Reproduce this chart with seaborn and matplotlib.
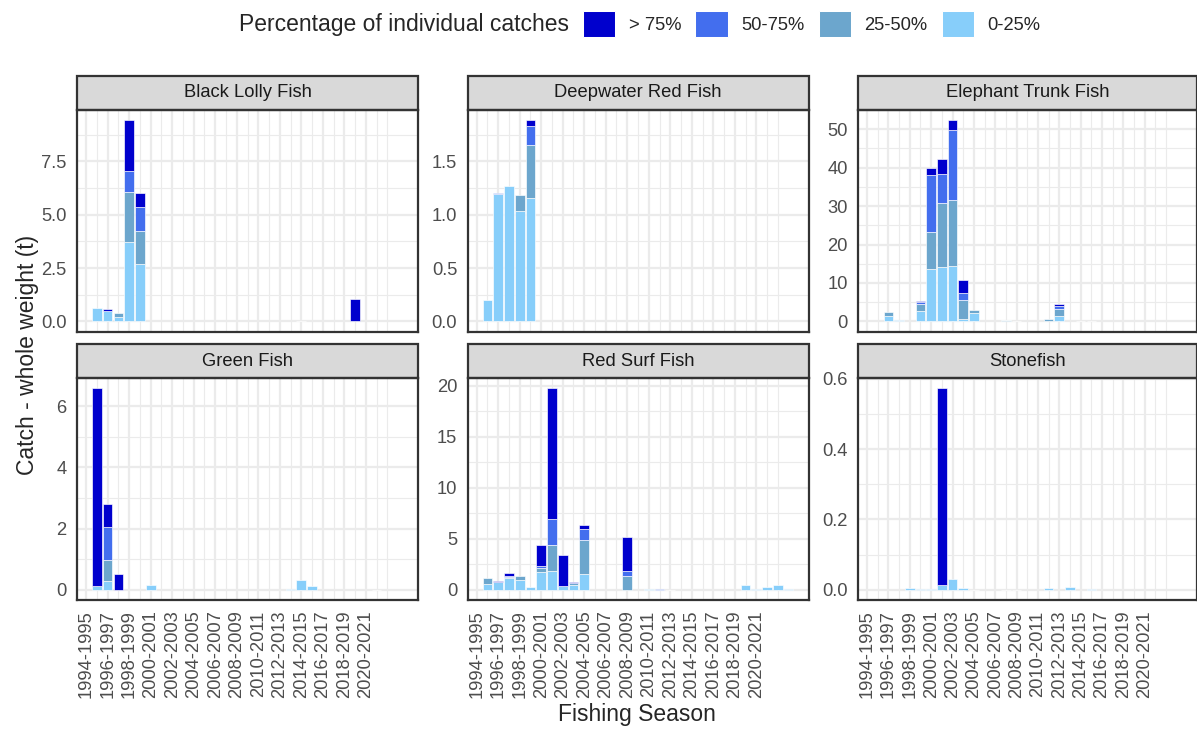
import numpy as np
import pandas as pd
import matplotlib
matplotlib.use("Agg")
import matplotlib.pyplot as plt
from matplotlib.patches import Patch, Rectangle
from matplotlib.ticker import FixedLocator
import seaborn as sns

# ---------------- data ----------------
categories = ["> 75%", "50-75%", "25-50%", "0-25%"]
colors = ["#0000CD", "#436EEE", "#6CA6CD", "#87CEFA"]

species = ["Black Lolly Fish", "Deepwater Red Fish", "Elephant Trunk Fish",
           "Green Fish", "Red Surf Fish", "Stonefish"]

blf_years = [1995, 1996, 1997, 1998, 1999, 2014, 2019]
blf_gt75 = [0, 0.11, 0, 2.39, 0.64, 0, 1.05]
blf_50_75 = [0, 0, 0, 0.98, 1.13, 0, 0]
blf_25_50 = [0, 0, 0.19, 2.38, 1.55, 0, 0]
blf_0_25 = [0.64, 0.47, 0.22, 3.70, 2.70, 0.01, 0]

drf_years = [1995, 1996, 1997, 1998, 1999]
drf_gt75 = [0, 0, 0, 0, 0.06]
drf_50_75 = [0, 0.015, 0, 0, 0.18]
drf_25_50 = [0, 0, 0, 0.15, 0.49]
drf_0_25 = [0.20, 1.19, 1.27, 1.03, 1.16]

etf_years = [1996, 1997, 1999, 2000, 2001, 2002, 2003, 2004, 2007, 2008, 2011, 2012, 2014, 2015]
etf_gt75 = [0, 0, 0.1, 1.74, 4.0, 2.69, 3.39, 0, 0, 0, 0, 0.52, 0, 0]
etf_50_75 = [0, 0, 0.7, 14.76, 7.47, 18.14, 1.91, 0, 0.1, 0, 0, 0.69, 0, 0]
etf_25_50 = [0.87, 0, 1.82, 9.81, 16.67, 17.27, 4.86, 0.95, 0.15, 0, 0.3, 2.0, 0, 0]
etf_0_25 = [1.48, 0.26, 2.6, 13.54, 14.24, 14.41, 0.69, 2.08, 0.18, 0.15, 0.2, 1.3, 0.05, 0.05]

gf_years = [1995, 1996, 1997, 2000, 2013, 2014, 2015, 2021]
gf_gt75 = [6.45, 0.73, 0.53, 0, 0, 0, 0, 0]
gf_50_75 = [0, 1.08, 0, 0, 0, 0, 0, 0]
gf_25_50 = [0, 0.69, 0, 0, 0, 0, 0, 0]
gf_0_25 = [0.14, 0.30, 0, 0.17, 0.02, 0.33, 0.12, 0.01]

rsf_years = [1995, 1996, 1997, 1998, 1999, 2000, 2001, 2002, 2003, 2004, 2008,
             2010, 2011, 2012, 2019, 2020, 2021, 2022, 2023]
rsf_gt75 = [0, 0.10, 0.26, 0, 0, 2.03, 12.81, 3.04, 0.10, 0.42, 3.24,
            0, 0, 0, 0, 0, 0, 0, 0]
rsf_50_75 = [0, 0, 0.15, 0, 0, 0.23, 2.58, 0, 0, 1.08, 0.56,
             0, 0.10, 0, 0, 0, 0, 0, 0]
rsf_25_50 = [0.62, 0, 0.05, 0.36, 0, 0.39, 2.55, 0, 0.16, 3.30, 1.34,
             0, 0, 0, 0, 0, 0, 0, 0]
rsf_0_25 = [0.56, 0.75, 1.17, 0.98, 0.33, 1.73, 1.83, 0.39, 0.52, 1.57, 0,
            0.10, 0.03, 0.03, 0.52, 0.10, 0.26, 0.46, 0.13]

sf_years = [1998, 1999, 2000, 2001, 2002, 2003, 2004, 2007, 2008, 2011, 2013, 2015]
sf_gt75 = [0, 0, 0, 0.560, 0, 0, 0, 0, 0, 0, 0, 0]
sf_50_75 = [0] * 12
sf_25_50 = [0] * 12
sf_0_25 = [0.005, 0.002, 0.002, 0.013, 0.030, 0.0066, 0.001, 0.001, 0.001, 0.005, 0.0076, 0.002]

y_ticks = {
    "Black Lolly Fish": [0, 2.5, 5.0, 7.5],
    "Deepwater Red Fish": [0, 0.5, 1.0, 1.5],
    "Elephant Trunk Fish": [0, 10, 20, 30, 40, 50],
    "Green Fish": [0, 2, 4, 6],
    "Red Surf Fish": [0, 5, 10, 15, 20],
    "Stonefish": [0, 0.2, 0.4, 0.6],
}
y_labels = {
    "Black Lolly Fish": ["0.0", "2.5", "5.0", "7.5"],
    "Deepwater Red Fish": ["0.0", "0.5", "1.0", "1.5"],
    "Elephant Trunk Fish": ["0", "10", "20", "30", "40", "50"],
    "Green Fish": ["0", "2", "4", "6"],
    "Red Surf Fish": ["0", "5", "10", "15", "20"],
    "Stonefish": ["0.0", "0.2", "0.4", "0.6"],
}

season_breaks = [1994, 1996, 1998, 2000, 2002, 2004, 2006, 2008, 2010,
                 2012, 2014, 2016, 2018, 2020]
season_labels = ["1994-1995", "1996-1997", "1998-1999", "2000-2001", "2002-2003",
                 "2004-2005", "2006-2007", "2008-2009", "2010-2011", "2012-2013",
                 "2014-2015", "2016-2017", "2018-2019", "2020-2021"]

raw = {
    "Black Lolly Fish": (blf_years, [blf_gt75, blf_50_75, blf_25_50, blf_0_25]),
    "Deepwater Red Fish": (drf_years, [drf_gt75, drf_50_75, drf_25_50, drf_0_25]),
    "Elephant Trunk Fish": (etf_years, [etf_gt75, etf_50_75, etf_25_50, etf_0_25]),
    "Green Fish": (gf_years, [gf_gt75, gf_50_75, gf_25_50, gf_0_25]),
    "Red Surf Fish": (rsf_years, [rsf_gt75, rsf_50_75, rsf_25_50, rsf_0_25]),
    "Stonefish": (sf_years, [sf_gt75, sf_50_75, sf_25_50, sf_0_25]),
}

rows = []
for sp, (yrs, series) in raw.items():
    for cat, vals in zip(categories, series):
        for yr, v in zip(yrs, vals):
            rows.append((sp, yr, cat, v))
df = pd.DataFrame(rows, columns=["species", "season", "share", "catch"])

# ---------------- style ----------------
sns.set_style("white")
plt.rcParams["font.family"] = ["Liberation Sans", "DejaVu Sans"]

W, H = 1197, 729
DPI = 150
fig = plt.figure(figsize=(W / DPI, H / DPI), dpi=DPI)

palette = dict(zip(categories, colors))
col_left = [77, 467.5, 858]
col_w = [341, 341, 338.5]
row_top = [109.5, 378]
panel_h = 222
strip_h = 34
LW = 1.07
xlim = (1993.15, 2024.85)

minor_x = list(range(1993, 2022, 2)) + [2022]

for i, sp in enumerate(species):
    r, c = divmod(i, 3)
    ax = fig.add_axes([col_left[c] / W, 1 - (row_top[r] + panel_h) / H,
                       col_w[c] / W, panel_h / H])
    sub = df[df["species"] == sp]
    sns.histplot(data=sub, x="season", weights="catch", hue="share",
                 hue_order=categories, palette=palette, multiple="stack",
                 discrete=True, shrink=0.9, alpha=1, edgecolor="white",
                 linewidth=0.3, legend=False, ax=ax)
    for p in ax.patches:
        if p.get_height() <= 0:
            p.set_visible(False)

    totals = sub.groupby("season")["catch"].sum()
    ymax = totals.max()
    ax.set_ylim(-0.05 * ymax, 1.05 * ymax)
    ax.set_xlim(*xlim)

    yt = y_ticks[sp]
    step = yt[1] - yt[0]
    minor_y = [t + step / 2 for t in [yt[0] - step] + yt]
    ax.yaxis.set_major_locator(FixedLocator(yt))
    ax.set_yticklabels(y_labels[sp])
    ax.yaxis.set_minor_locator(FixedLocator(minor_y))
    ax.xaxis.set_major_locator(FixedLocator(season_breaks))
    ax.xaxis.set_minor_locator(FixedLocator(minor_x))

    ax.set_axisbelow(True)
    ax.grid(which="major", color="#EBEBEB", linewidth=LW)
    ax.grid(which="minor", color="#EBEBEB", linewidth=LW / 2)
    ax.tick_params(which="minor", length=0)
    ax.tick_params(which="major", length=2.75, width=LW, color="#333333",
                   labelcolor="#4D4D4D", labelsize=8.8, pad=2.2)
    if r == 1:
        ax.set_xticklabels(season_labels, rotation=90)
    else:
        ax.tick_params(axis="x", which="major", length=0, labelbottom=False)
    ax.set_xlabel("")
    ax.set_ylabel("")
    for s in ax.spines.values():
        s.set_color("#333333")
        s.set_linewidth(LW)
        s.set_visible(True)

    sh = strip_h / panel_h
    ax.add_patch(Rectangle((0, 1), 1, sh, transform=ax.transAxes, clip_on=False,
                           facecolor="#D9D9D9", edgecolor="#333333", linewidth=LW))
    ax.text(0.5, 1 + sh / 2, sp, transform=ax.transAxes, ha="center", va="center",
            fontsize=8.8, color="#1A1A1A")

# axis titles
fig.text(28 / W, 1 - 355 / H, "Catch - whole weight (t)", rotation=90,
         ha="center", va="center", fontsize=11)
fig.text(636.5 / W, 1 - 714 / H, "Fishing Season", ha="center", va="center",
         fontsize=11)

# legend
handles = [Patch(facecolor=col, edgecolor="white", linewidth=0.5, label=cat)
           for cat, col in zip(categories, colors)]
fig.legend(handles=handles, loc="center left", bbox_to_anchor=(583 / W, 1 - 24 / H),
           ncol=4, frameon=False, fontsize=8.8, handlelength=1.75, handleheight=1.75,
           handletextpad=0.75, columnspacing=0.77, borderpad=0, borderaxespad=0)
fig.text(569 / W, 1 - 24 / H, "Percentage of individual catches", ha="right",
         va="center", fontsize=11)

fig.savefig("out.png", dpi=DPI)
